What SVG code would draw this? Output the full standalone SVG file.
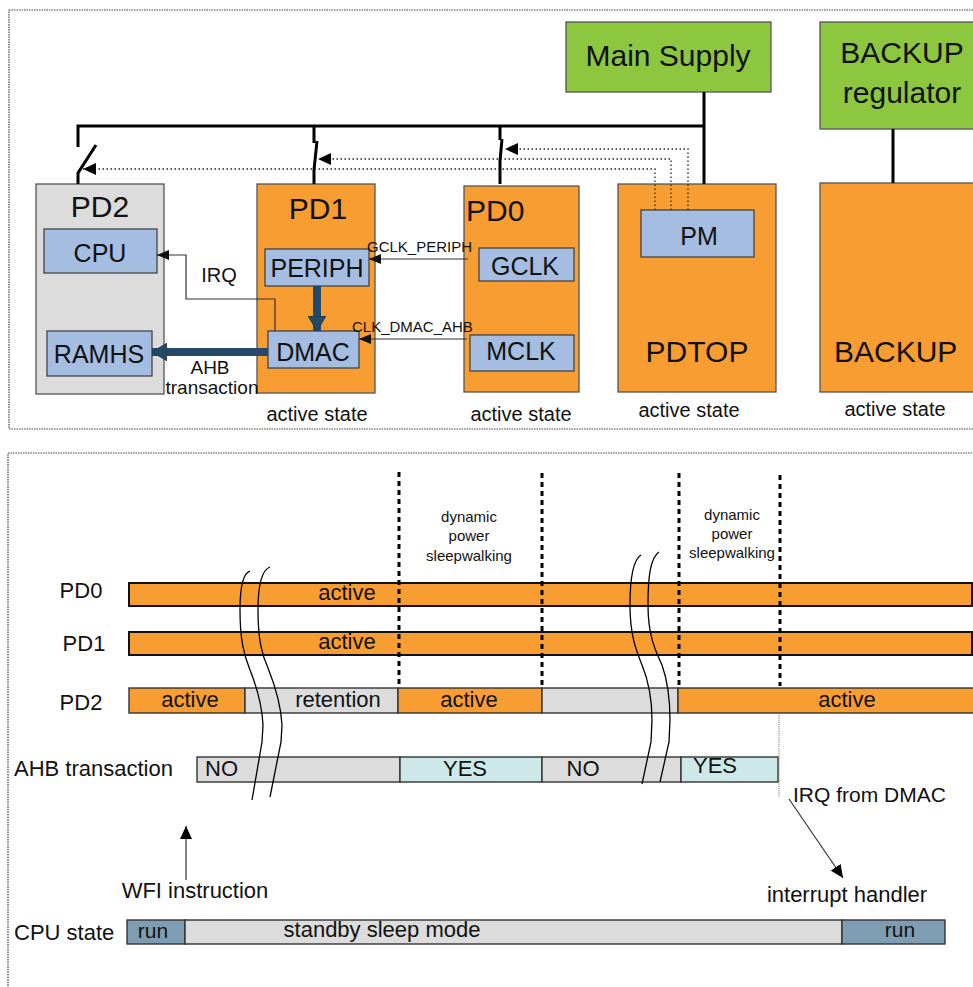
<svg xmlns="http://www.w3.org/2000/svg" width="973" height="987" viewBox="0 0 973 987">
<style>
text{font-family:"Liberation Sans",Arial,sans-serif;fill:#111}
.frame{fill:none;stroke:#444;stroke-width:1.2;stroke-dasharray:1.5 1}
.pd{fill:#f89d31;stroke:#555;stroke-width:1.3}
.pdg{fill:#dcdcdc;stroke:#555;stroke-width:1.3}
.sup{fill:#8dc63f;stroke:#555;stroke-width:1.3}
.blk{fill:#a4bde0;stroke:#444;stroke-width:1.3}
.pwr{fill:none;stroke:#000;stroke-width:3}
.dot{fill:none;stroke:#222;stroke-width:1.3;stroke-dasharray:1.5 2.5}
.thin{fill:none;stroke:#333;stroke-width:1.2}
.fat{fill:none;stroke:#254a68;stroke-width:8}
.bar{stroke:#111;stroke-width:2}
.bar2{stroke:#333;stroke-width:1.4}
.or{fill:#f89d31}.gr{fill:#dcdcdc}.cy{fill:#cde8e8}.rn{fill:#7f9db2}
.dash{fill:none;stroke:#000;stroke-width:3;stroke-dasharray:5 4}
.brk{fill:none;stroke:#000;stroke-width:1.3}
.c{text-anchor:middle}
</style>
<defs>
<marker id="ah" markerUnits="userSpaceOnUse" markerWidth="14" markerHeight="12" refX="13" refY="6" orient="auto"><path d="M0,0 L13,6 L0,12 z" fill="#000"/></marker>
<marker id="as" markerUnits="userSpaceOnUse" markerWidth="12" markerHeight="10" refX="12" refY="5" orient="auto"><path d="M0,0 L12,5 L0,10 z" fill="#111"/></marker>
<marker id="af" markerUnits="userSpaceOnUse" markerWidth="16" markerHeight="18" refX="15" refY="9" orient="auto"><path d="M0,0 L15,9 L0,18 z" fill="#254a68" stroke="#1b3347" stroke-width="0.8"/></marker>
</defs>

<rect class="frame" x="9" y="10" width="1000" height="419"/>
<rect class="frame" x="8" y="453" width="1000" height="600"/>

<g id="main-supply"><rect class="sup" x="566" y="22" width="205" height="70"/><text class="c" x="668" y="66" font-size="30">Main Supply</text></g>
<g id="backup-regulator"><rect class="sup" x="820" y="22" width="170" height="107"/><text class="c" x="902" y="63" font-size="30">BACKUP</text><text class="c" x="902" y="103" font-size="30">regulator</text></g>

<g id="pd2"><rect class="pdg" x="36" y="184" width="128" height="210"/><text class="c" x="100" y="217" font-size="30">PD2</text></g>
<g id="cpu"><rect class="blk" x="44" y="229" width="113" height="44"/><text class="c" x="100" y="262" font-size="25">CPU</text></g>
<g id="ramhs"><rect class="blk" x="47" y="331" width="105" height="45"/><text class="c" x="99" y="363" font-size="25">RAMHS</text></g>

<g id="pd1"><rect class="pd" x="257" y="184" width="118" height="209"/><text class="c" x="318" y="219" font-size="30">PD1</text><text class="c" x="317" y="421" font-size="20">active state</text></g>
<g id="periph"><rect class="blk" x="265" y="249" width="104" height="37"/><text class="c" x="317" y="277" font-size="25">PERIPH</text></g>
<g id="dmac"><rect class="blk" x="268" y="331" width="91" height="37"/><text class="c" x="313" y="361" font-size="25">DMAC</text></g>

<g id="pd0"><rect class="pd" x="464" y="186" width="115" height="206"/><text x="466" y="221" font-size="30">PD0</text><text class="c" x="521" y="421" font-size="20">active state</text></g>
<g id="gclk"><rect class="blk" x="479" y="248" width="95" height="33"/><text class="c" x="525" y="275" font-size="25">GCLK</text></g>
<g id="mclk"><rect class="blk" x="470" y="335" width="104" height="36"/><text class="c" x="521" y="360" font-size="25">MCLK</text></g>

<g id="pdtop"><rect class="pd" x="618" y="184" width="158" height="208"/><text class="c" x="697" y="362" font-size="30">PDTOP</text><text class="c" x="689" y="417" font-size="20">active state</text></g>
<g id="pm"><rect class="blk" x="641" y="210" width="113" height="47"/><text class="c" x="699" y="245" font-size="25">PM</text></g>

<g id="backup"><rect class="pd" x="820" y="183" width="170" height="209"/><text x="834" y="362" font-size="30">BACKUP</text><text class="c" x="895" y="416" font-size="20">active state</text></g>

<g id="connectors">
<path class="pwr" d="M704 92 V184"/>
<path class="pwr" d="M78 147 V126 H704"/>
<path class="pwr" d="M78 184 V173 L96 145"/>
<path class="pwr" d="M314 126 V143 M317 141 L314 170 V184"/>
<path class="pwr" d="M500 126 V140 M502 139 L500 161 V184"/>
<path class="pwr" d="M893 129 V183"/>
<path class="dot" d="M688 210 V149 H505" marker-end="url(#ah)"/>
<path class="dot" d="M671 210 V159 H318" marker-end="url(#ah)"/>
<path class="dot" d="M655 210 V169 H83" marker-end="url(#ah)"/>
<path class="thin" d="M468 259 H369" marker-end="url(#as)"/>
<path class="thin" d="M467 339 H359" marker-end="url(#as)"/>
<path class="thin" d="M275 331 V299 H186 V255 H157" marker-end="url(#as)"/>
<path class="fat" d="M268 352 H152" marker-end="url(#af)"/>
<path class="fat" d="M317 286 V331" marker-end="url(#af)"/>
<text x="367" y="252" font-size="15">GCLK_PERIPH</text>
<text x="352" y="332" font-size="15">CLK_DMAC_AHB</text>
<text class="c" x="219" y="282" font-size="20">IRQ</text>
<text class="c" x="210" y="374" font-size="19">AHB</text>
<text class="c" x="212" y="394" font-size="19">transaction</text>
</g>

<g id="timeline">
<text class="c" x="81" y="598" font-size="22">PD0</text>
<text class="c" x="84" y="651" font-size="22">PD1</text>
<text class="c" x="81" y="710" font-size="22">PD2</text>
<text x="14" y="776" font-size="22">AHB transaction</text>
<text x="14" y="940" font-size="22">CPU state</text>

<g id="pd0-bar"><rect class="or bar" x="129" y="583" width="843" height="23"/><text class="c" x="347" y="600" font-size="22">active</text></g>
<g id="pd1-bar"><rect class="or bar" x="129" y="632" width="843" height="23"/><text class="c" x="347" y="649" font-size="22">active</text></g>
<g id="pd2-bar">
<rect class="or bar2" x="129" y="688" width="116" height="25"/>
<rect class="gr bar2" x="245" y="688" width="153" height="25"/>
<rect class="or bar2" x="398" y="688" width="144" height="25"/>
<rect class="gr bar2" x="542" y="688" width="136" height="25"/>
<rect class="or bar2" x="678" y="688" width="300" height="25"/>
<text class="c" x="190" y="707" font-size="22">active</text>
<text class="c" x="338" y="707" font-size="22">retention</text>
<text class="c" x="469" y="707" font-size="22">active</text>
<text class="c" x="847" y="707" font-size="22">active</text>
</g>
<g id="ahb-bar">
<rect class="gr bar2" x="197" y="757" width="203" height="25"/>
<rect class="cy bar2" x="400" y="757" width="142" height="25"/>
<rect class="gr bar2" x="542" y="757" width="139" height="25"/>
<rect class="cy bar2" x="681" y="757" width="97" height="25"/>
<text x="205" y="776" font-size="22">NO</text>
<text class="c" x="465" y="776" font-size="22">YES</text>
<text class="c" x="583" y="776" font-size="22">NO</text>
<text class="c" x="715" y="773" font-size="22">YES</text>
</g>
<g id="cpu-bar">
<rect class="rn bar2" x="127" y="920" width="58" height="24"/>
<rect class="gr bar2" x="185" y="920" width="657" height="24"/>
<rect class="rn bar2" x="842" y="920" width="103" height="24"/>
<text class="c" x="153" y="938" font-size="21">run</text>
<text class="c" x="382" y="937" font-size="22">standby sleep mode</text>
<text class="c" x="900" y="937" font-size="21">run</text>
</g>

<path class="dash" d="M399 472 V686"/>
<path class="dash" d="M542 473 V686"/>
<path class="dash" d="M679 473 V686"/>
<path class="dash" d="M780 475 V686"/>
<path d="M779 713 V797" fill="none" stroke="#777" stroke-width="1" stroke-dasharray="1.2 1"/>

<g font-size="15">
<text class="c" x="469" y="522">dynamic</text>
<text class="c" x="469" y="541">power</text>
<text class="c" x="469" y="561">sleepwalking</text>
<text class="c" x="732" y="520">dynamic</text>
<text class="c" x="732" y="539">power</text>
<text class="c" x="732" y="558">sleepwalking</text>
</g>

<path class="brk" d="M250 571 C243 573 240 585 240 610 C240 640 244 655 250 670 C258 690 262 705 263 725 L262 742 L252 800"/>
<path class="brk" d="M270 567 C262 570 258 585 258 610 C258 640 262 655 268 668 C276 688 281 705 282 725 L281 742 L270 797"/>
<path class="brk" d="M641 555 C633 560 630 580 630 605 C630 635 636 650 642 665 C649 682 652 700 652 720 L651 742 L642 784"/>
<path class="brk" d="M659 552 C650 558 648 578 648 605 C648 635 655 650 662 665 C668 682 670 700 670 720 L669 742 L660 782"/>

<path class="thin" d="M186 880 V826" marker-end="url(#ah)" stroke="#000"/>
<text class="c" x="195" y="898" font-size="22">WFI instruction</text>
<path class="thin" d="M789 799 L843 878" marker-end="url(#ah)" stroke="#000"/>
<text x="793" y="802" font-size="21">IRQ from DMAC</text>
<text class="c" x="847" y="902" font-size="22">interrupt handler</text>
</g>
</svg>
